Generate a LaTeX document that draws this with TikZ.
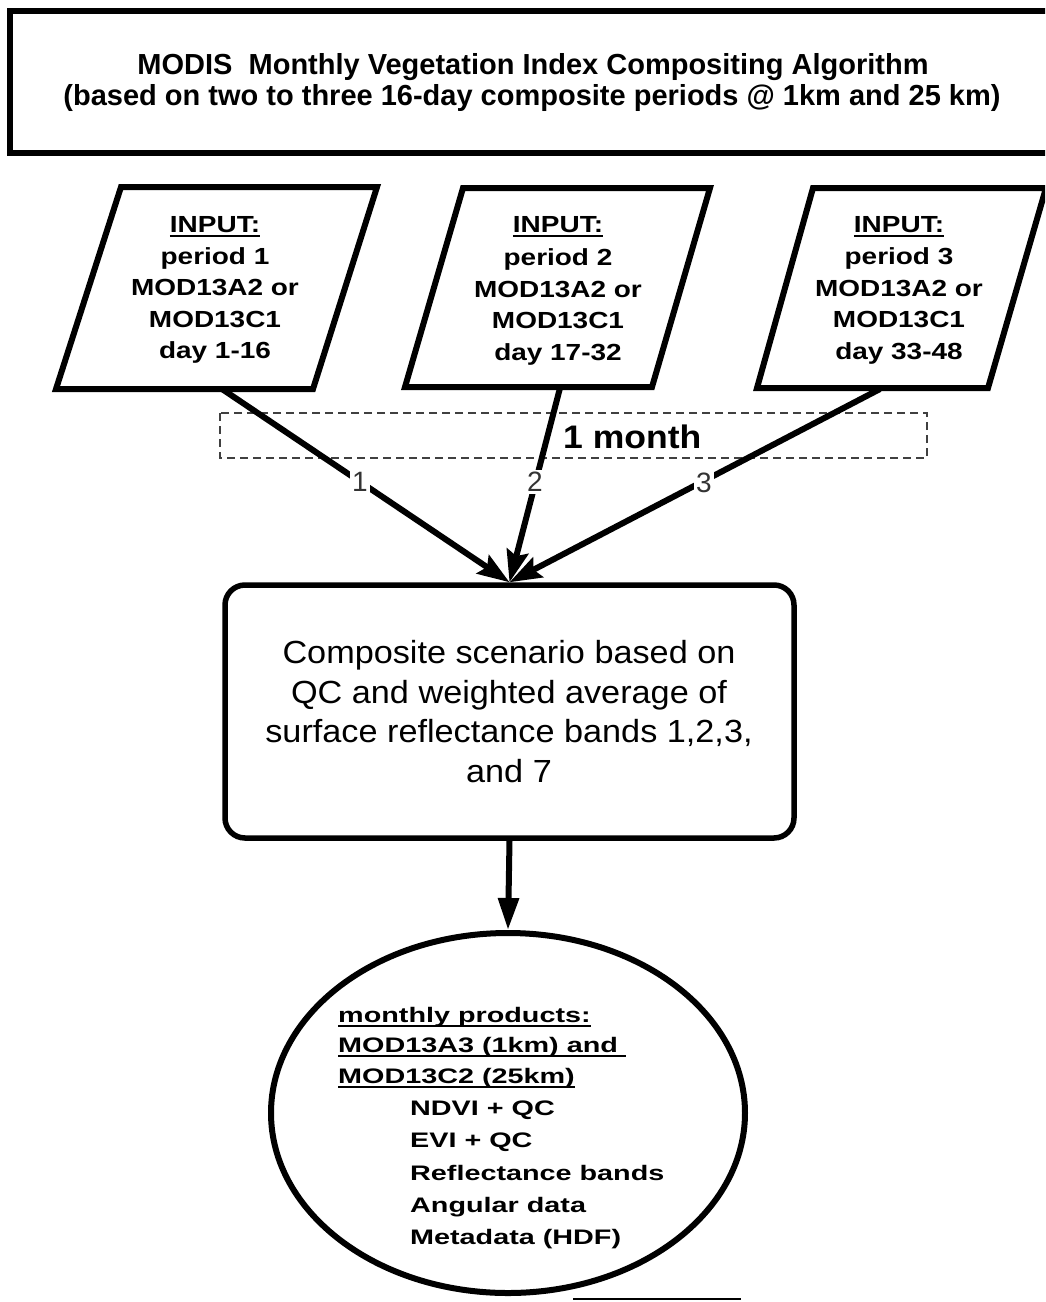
\documentclass[tikz,border=0pt]{standalone}
\usepackage{fontspec}
\setmainfont{Liberation Sans}
\newfontfamily\fpar{Liberation Sans}[FakeStretch=1.2]
\newfontfamily\fell{Liberation Sans}[FakeStretch=1.37]
\newfontfamily\frect{Liberation Sans}[FakeStretch=1.07]
\newfontfamily\fmonth{Liberation Sans}[FakeStretch=1.09]
\usetikzlibrary{shapes.geometric,arrows.meta}
\newsavebox\ulbox
\newcommand\myul[1]{\sbox\ulbox{#1}\rlap{\rule[-5pt]{\wd\ulbox}{2pt}}\usebox\ulbox}
\begin{document}
\begin{tikzpicture}[x=1pt,y=-1pt,
  heavy/.style={line width=6pt,line join=miter},
  arr/.style={line width=6pt,-{Stealth[length=32pt,width=22pt,inset=5pt]}},
  ttl/.style={anchor=base,inner sep=0pt,font={\bfseries\fontsize{29pt}{32pt}\selectfont}},
  ptxt/.style={anchor=base,inner sep=0pt,font={\fpar\bfseries\fontsize{23.3pt}{28pt}\selectfont}},
  rtxt/.style={anchor=base,inner sep=0pt,font={\frect\fontsize{32pt}{38pt}\selectfont}},
  etxt/.style={anchor=base west,inner sep=0pt,font={\fell\bfseries\fontsize{21pt}{28pt}\selectfont}},
  numlab/.style={fill=white,inner sep=2.5pt,text=black!80,font={\fontsize{28pt}{30pt}\selectfont}}]
\useasboundingbox (0,0) rectangle (1045,1302);
\clip (0,0) rectangle (1045,1302);
\fill[white] (0,0) rectangle (1045,1302);

% title box
\draw[line width=6.5pt] (1070,11) -- (10,11) -- (10,153) -- (1070,153);
\node[ttl] (t1) at (533,74) {MODIS\ \ Monthly Vegetation Index Compositing Algorithm};
\node[ttl] (t2) at (532,105) {(based on two to three 16-day composite periods @ 1km and 25 km)};

% input parallelograms
\draw[heavy] (56,389) -- (313,389) -- (377,187) -- (121,187) -- cycle;
\draw[heavy] (405,387) -- (652,387) -- (710,188) -- (463,188) -- cycle;
\draw[heavy] (757,388) -- (988,388) -- (1046,188) -- (813,188) -- cycle;

\node[ptxt] (a1) at (215,232) {\myul{INPUT:}};
\node[ptxt] (a2) at (215,264) {period 1};
\node[ptxt] (a3) at (215,295) {MOD13A2 or};
\node[ptxt] (a4) at (215,327) {MOD13C1};
\node[ptxt] (a5) at (215,358) {day 1-16};

\node[ptxt] (b1) at (558,232) {\myul{INPUT:}};
\node[ptxt] (b2) at (558,265) {period 2};
\node[ptxt] (b3) at (558,297) {MOD13A2 or};
\node[ptxt] (b4) at (558,328) {MOD13C1};
\node[ptxt] (b5) at (558,360) {day 17-32};

\node[ptxt] (c1) at (899,232) {\myul{INPUT:}};
\node[ptxt] (c2) at (899,264) {period 3};
\node[ptxt] (c3) at (899,296) {MOD13A2 or};
\node[ptxt] (c4) at (899,327) {MOD13C1};
\node[ptxt] (c5) at (899,359) {day 33-48};

\coordinate (p1out) at (222,389);
\coordinate (p2out) at (560,388);
\coordinate (p3out) at (880,389);

% one month dashed box
\draw[line width=1.4pt,black!75,dash pattern=on 8pt off 5pt] (220,413) rectangle (927,458);
\node[anchor=base west,inner sep=0pt,font={\fmonth\bfseries\fontsize{32.6pt}{36pt}\selectfont}] (month) at (563,448) {1 month};

% composite box
\node[draw,line width=5.5pt,rounded corners=20pt,minimum width=569pt,minimum height=253pt,inner sep=0pt] (box) at (509.5,711.5) {};
\node[rtxt] (r1) at (509,663) {Composite scenario based on};
\node[rtxt] (r2) at (509,703) {QC and weighted average of};
\node[rtxt] (r3) at (509,742) {surface reflectance bands 1,2,3,};
\node[rtxt] (r4) at (509,782) {and 7};

% arrows
\draw[arr] (p1out) -- (box.north);
\draw[arr] (p2out) -- (box.north);
\draw[arr] (p3out) -- (box.north);
\node[numlab] (n1) at (360,482) {1};
\node[numlab] (n2) at (535,482) {2};
\node[numlab] (n3) at (704,483) {3};

% products ellipse
\node[draw,ellipse,line width=6pt,minimum width=474pt,minimum height=360pt,inner sep=0pt] (prod) at (508,1113) {};
\draw[arr,-{Triangle[length=32pt,width=20pt]}] (box.south) -- (prod.north);

\node[etxt] (e1) at (338,1022) {\myul{monthly products:}};
\node[etxt] (e2) at (338,1052) {\myul{MOD13A3 (1km) and\ }};
\node[etxt] (e3) at (338,1083) {\myul{MOD13C2 (25km)}};
\node[etxt] (e4) at (410,1115) {NDVI + QC};
\node[etxt] (e5) at (410,1147) {EVI + QC};
\node[etxt] (e6) at (410,1180) {Reflectance bands};
\node[etxt] (e7) at (410,1212) {Angular data};
\node[etxt] (e8) at (410,1244) {Metadata (HDF)};

% stray line at the bottom edge
\coordinate (bl1) at (573,1299);
\coordinate (bl2) at (741,1299);
\draw[line width=2pt] (bl1) -- (bl2);
\end{tikzpicture}
\end{document}
